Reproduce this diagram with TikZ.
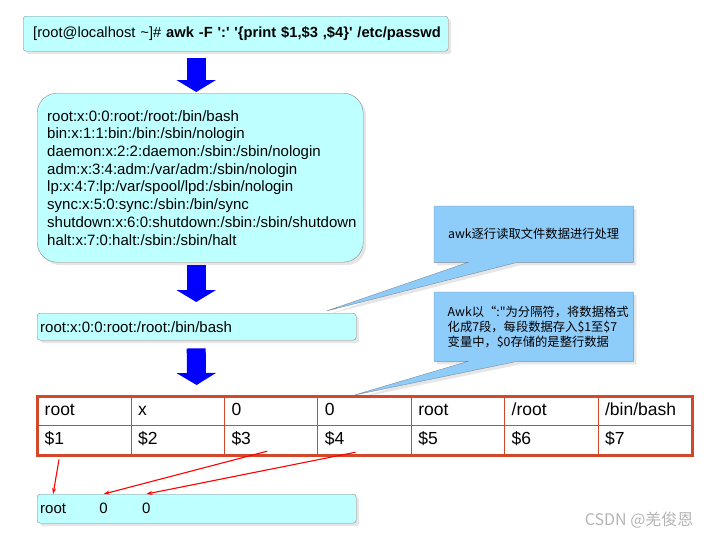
\documentclass[tikz,border=0pt]{standalone}
\usepackage{fontspec}
\setmainfont{Liberation Sans}
\newfontfamily\cjk{Noto Sans CJK SC}
\usetikzlibrary{arrows.meta, positioning, calc, matrix, shadows, backgrounds}
\definecolor{boxCyan}{HTML}{BEFFFF}
\definecolor{boxEdge}{HTML}{8A8A8A}
\definecolor{noteBlue}{HTML}{8ECCFA}
\definecolor{noteEdge}{HTML}{7F8C99}
\definecolor{tableRed}{HTML}{D2482A}
\definecolor{markGray}{HTML}{B4B4B4}

\begin{document}
\begin{tikzpicture}[x=1pt, y=-1pt,
    every node/.style={font=\fontsize{15}{17.7}\selectfont},
    cyanbox/.style={draw=boxEdge, fill=boxCyan, rounded corners=3pt, anchor=north west, align=left,
      drop shadow={opacity=0.2, shadow xshift=3pt, shadow yshift=-3pt}},
    notebox/.style={anchor=north west, font=\cjk\fontsize{12.3}{15}\selectfont},
    noteshape/.style={draw=noteEdge, fill=noteBlue,
      drop shadow={opacity=0.2, shadow xshift=3pt, shadow yshift=-3pt}},
    bigarrow/.style={draw=blue, line width=19pt, -{Triangle[length=12pt, width=39pt]}},
    redarrow/.style={draw=red, line width=1.1pt, -{Stealth[length=6pt, width=4pt]}},
    cell/.style={draw=tableRed, line width=1pt, anchor=center, text height=12.5pt, text depth=3.5pt,
      minimum height=29pt, text width=79.4pt, inner xsep=7pt, inner ysep=0pt, align=left,
      font=\fontsize{17.5}{20}\selectfont}]

  \useasboundingbox (0,0) rectangle (712,539);

  % command and the passwd file
  \node[cyanbox, minimum height=35pt, text width=413pt, inner xsep=6pt,
    font=\fontsize{14.7}{17}\selectfont] (cmd) at (23,16)
    {\hspace{4pt}[root@localhost \textasciitilde]\# \textbf{awk -F \textquotesingle:\textquotesingle\ \textquotesingle\{print \$1,\$3 ,\$4\}\textquotesingle\ /etc/passwd}};
  \node[cyanbox, rounded corners=20pt, minimum height=169pt, text width=306pt, inner xsep=10pt] (lines) at (37,93)
    {root:x:0:0:root:/root:/bin/bash\\
     bin:x:1:1:bin:/bin:/sbin/nologin\\
     daemon:x:2:2:daemon:/sbin:/sbin/nologin\\
     adm:x:3:4:adm:/var/adm:/sbin/nologin\\
     lp:x:4:7:lp:/var/spool/lpd:/sbin/nologin\\
     sync:x:5:0:sync:/sbin:/bin/sync\\
     shutdown:x:6:0:shutdown:/sbin:/sbin/shutdown\\
     halt:x:7:0:halt:/sbin:/sbin/halt};
  \node[cyanbox, minimum height=27pt, text width=313pt, inner xsep=3pt] (line) at (37,313)
    {root:x:0:0:root:/root:/bin/bash};

  % fields
  \matrix[matrix of nodes, nodes={cell}, column sep=-1pt, row sep=-1pt, inner sep=0pt,
    anchor=north west] (tab) at (37,396) {
    root & x & 0 & 0 & root & /root & /bin/bash \\
    \$1 & \$2 & \$3 & \$4 & \$5 & \$6 & \$7 \\
  };
  \draw[tableRed, line width=3pt] (tab.north west) rectangle (tab.south east);

  % result
  \node[cyanbox, minimum width=319pt, minimum height=29pt] (out) at (37,494) {};
  \node[right=3pt of out.west, inner sep=0pt] (o1) {root};
  \node[right=33pt of o1, inner sep=0pt] (o2) {0};
  \node[right=34pt of o2, inner sep=0pt] (o3) {0};

  % notes
  \node[notebox, minimum width=199pt, minimum height=56pt] (note1) at (434,206)
    {awk逐行读取文件数据进行处理};
  \node[notebox, minimum height=69pt, text width=172pt, inner xsep=13.5pt, align=left] (note2) at (434,292)
    {Awk以“:"为分隔符，将数据格式\\化成7段，每段数据存入\$1至\$7\\变量中，\$0存储的是整行数据};
  \begin{scope}[on background layer]
    \draw[noteshape] (note1.north west) -- (note1.north east) -- (note1.south east)
      -- ([xshift=83pt]note1.south west) -- ([xshift=-30pt,yshift=2pt]line.north east)
      -- ([xshift=34pt]note1.south west) -- (note1.south west) -- cycle;
    \draw[noteshape] (note2.north west) -- (note2.north east) -- (note2.south east)
      -- ([xshift=83pt]note2.south west) -- ([xshift=-10pt,yshift=1pt]tab.north)
      -- ([xshift=34pt]note2.south west) -- (note2.south west) -- cycle;
  \end{scope}

  % flow arrows
  \draw[bigarrow] ([xshift=-39.5pt,yshift=-7pt]cmd.south) -- ([xshift=-4pt,yshift=1pt]lines.north);
  \draw[bigarrow] ([xshift=-4pt,yshift=-3pt]lines.south) -- ([xshift=-0.5pt,yshift=11pt]line.north);
  \draw[bigarrow] ([xshift=-0.5pt,yshift=-8pt]line.south) -- ([xshift=-168pt,yshift=11pt]tab.north);

  \draw[redarrow] ([xshift=22pt,yshift=-4pt]tab.south west) -- (o1.north |- out.north);
  \draw[redarrow] ([xshift=-4pt,yshift=4pt]tab-2-3.south) -- (o2.north |- out.north);
  \draw[redarrow] ([xshift=-9pt,yshift=3pt]tab-2-4.south) -- (o3.north |- out.north);

  \node[font=\cjk\fontsize{16}{18}\selectfont, text=markGray, anchor=east] (mark) at (697,520) {CSDN @羌俊恩};
\end{tikzpicture}
\end{document}
